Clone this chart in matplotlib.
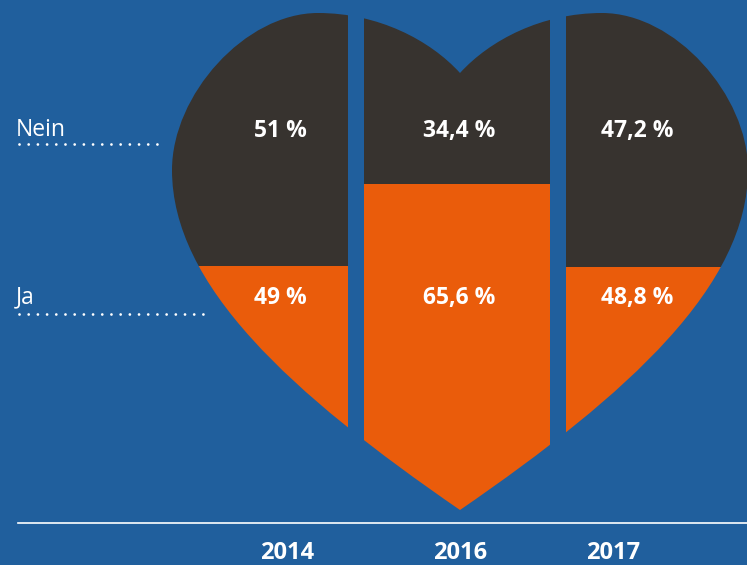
import matplotlib.pyplot as plt
from matplotlib.path import Path
from matplotlib.patches import PathPatch
from matplotlib.lines import Line2D

# Umfrage: Ja / Nein je Jahr (in Prozent)
years = ['2014', '2016', '2017']
ja = [49, 65.6, 48.8]
nein = [51, 34.4, 47.2]
answers = ['Nein', 'Ja']

BLUE = '#205f9d'
DARK = '#37332f'
ORANGE = '#ea5c0b'
W, H = 747, 565

plt.rcParams['font.family'] = ['Open Sans', 'DejaVu Sans']

def fx(x):
    return x / W

def fy(y):
    return 1 - y / H

def fmt(v):
    s = ('%g' % v).replace('.', ',')
    return s + ' %'

fig = plt.figure(figsize=(W / 100, H / 100), dpi=100, facecolor=BLUE)

# axes: y = 0 at pixel 510 (tip of the heart), y = 100 at pixel 13
ax = fig.add_axes([0, (H - 510) / H, 1, 497 / H])
ax.set_xlim(0, W)
ax.set_ylim(0, 100)
ax.axis('off')

# heart outline in pixel coordinates (y downward), symmetric around x = 460
cx = 460
left = [(460, 510),
        (290, 393), (172, 285), (172, 170),
        (172, 95), (245, 13), (318, 13),
        (378, 13), (430, 40), (460, 73)]
right = [(2 * cx - x, y) for x, y in reversed(left[:-1])]
pts = left + right + [(460, 510)]
codes = [Path.MOVETO] + [Path.CURVE4] * 18 + [Path.CLOSEPOLY]
verts = [(x, (510 - y) / 497 * 100) for x, y in pts]
heart = PathPatch(Path(verts, codes), transform=ax.transData,
                  facecolor='none', edgecolor='none')
ax.add_patch(heart)

centers = [255, 457, 659]
rest = [100 - v for v in ja]
bars_ja = ax.bar(centers, ja, width=186, color=ORANGE, linewidth=0)
bars_nein = ax.bar(centers, rest, bottom=ja, width=186, color=DARK, linewidth=0)
for b in list(bars_ja) + list(bars_nein):
    b.set_clip_path(heart)

# value labels
label_x = [280, 459, 637]
for x, n, j in zip(label_x, nein, ja):
    fig.text(fx(x), fy(137), fmt(n), color='white', fontsize=16.5,
             fontweight='bold', ha='center', va='baseline')
    fig.text(fx(x), fy(304), fmt(j), color='white', fontsize=16.5,
             fontweight='bold', ha='center', va='baseline')

# legend labels with dotted lines
fig.text(fx(16), fy(136), answers[0], color='white', fontsize=16.5,
         ha='left', va='baseline')
fig.text(fx(16), fy(303), answers[1], color='white', fontsize=16.5,
         ha='left', va='baseline')
for y, x1 in [(144, 158), (314, 203)]:
    fig.add_artist(Line2D([fx(19), fx(x1)], [fy(y), fy(y)], color='white',
                          linewidth=2, linestyle=(0, (0.01, 3.3)),
                          dash_capstyle='round'))

# baseline + year labels
fig.add_artist(Line2D([fx(18), 1], [fy(523), fy(523)], color='white',
                      linewidth=1.2))
year_x = [287, 460, 613]
for x, yr in zip(year_x, years):
    fig.text(fx(x), fy(559), yr, color='white', fontsize=17,
             fontweight='bold', ha='center', va='baseline')

fig.savefig('out.png', dpi=100, facecolor=BLUE)
